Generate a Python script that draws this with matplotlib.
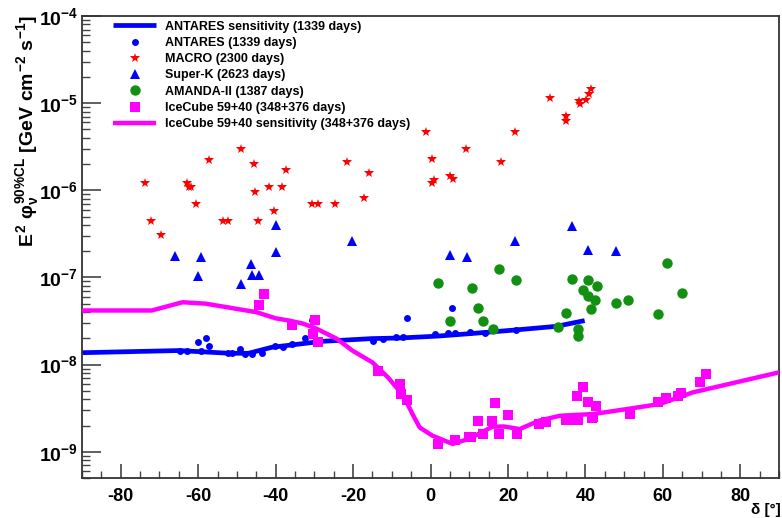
import matplotlib
matplotlib.use("Agg")
import matplotlib.pyplot as plt
import numpy as np
from matplotlib.ticker import FuncFormatter, LogLocator, MultipleLocator, NullFormatter

# ---- data ----
antares_sens_dec = [-90, -65, -52, -47, -41, -28, -15, -8, 1.5, 9.3, 22, 32.5, 39.8]
antares_sens_val = [1.37e-8, 1.45e-8, 1.35e-8, 1.35e-8, 1.58e-8, 1.85e-8, 1.99e-8,
                    2.02e-8, 2.12e-8, 2.25e-8, 2.5e-8, 2.75e-8, 3.2e-8]

icecube_sens_dec = [-90, -72, -64, -58, -45, -40, -36.5, -33, -29.5, -24.3, -20.2, -15,
                    -11, -7, -4.7, -2.8, 0.5, 5.7, 10, 16, 19, 23, 28, 33.4, 42, 50.7,
                    59.2, 67.8, 90]
icecube_sens_val = [4.18e-8, 4.18e-8, 5.2e-8, 5.0e-8, 4.0e-8, 3.4e-8, 3.2e-8, 2.96e-8,
                    2.59e-8, 1.99e-8, 1.45e-8, 1.06e-8, 7.14e-9, 4.4e-9, 2.73e-9, 1.9e-9,
                    1.53e-9, 1.23e-9, 1.41e-9, 1.94e-9, 1.95e-9, 1.82e-9, 2.27e-9, 2.59e-9,
                    2.71e-9, 3.09e-9, 3.53e-9, 4.81e-9, 8.15e-9]

antares_dec = [-64.6, -62.9, -60.1, -59.2, -58.0, -57.3, -52.2, -51.3, -49.2, -47.9,
               -46.1, -43.6, -40.1, -38.1, -35.9, -32.5, -30.7, -14.8, -12.3, -9.0,
               -7.1, -6.1, 1.1, 4.5, 5.6, 6.2, 10.1, 14.0, 22.0]
antares_val = [1.42e-8, 1.42e-8, 1.8e-8, 1.42e-8, 2.03e-8, 1.62e-8, 1.36e-8, 1.36e-8,
               1.51e-8, 1.34e-8, 1.34e-8, 1.36e-8, 1.62e-8, 1.58e-8, 1.73e-8, 2.03e-8,
               3.27e-8, 1.89e-8, 1.97e-8, 2.1e-8, 2.1e-8, 3.44e-8, 2.26e-8, 2.31e-8,
               4.43e-8, 2.31e-8, 2.35e-8, 2.29e-8, 2.5e-8]

macro_dec = [-73.7, -72.1, -69.5, -62.8, -62.3, -61.8, -60.6, -57.3, -53.6, -52.4,
             -48.9, -45.6, -45.4, -44.6, -41.8, -40.5, -38.4, -37.2, -30.6, -29.0,
             -24.7, -21.5, -17.1, -15.8, -1.1, 0.5, 0.9, 0.4, 5.0, 5.7, 9.1, 18.2,
             21.9, 30.9, 35.1, 35.1, 38.3, 38.5, 40.2, 40.9, 41.5]
macro_val = [1.21e-6, 4.4e-7, 3.04e-7, 1.21e-6, 1.09e-6, 1.09e-6, 7.03e-7, 2.25e-6,
             4.4e-7, 4.4e-7, 3.01e-6, 1.99e-6, 9.66e-7, 4.4e-7, 1.09e-6, 5.74e-7,
             1.09e-6, 1.73e-6, 7.03e-7, 7.03e-7, 7.03e-7, 2.11e-6, 8.15e-7, 1.6e-6,
             4.68e-6, 2.27e-6, 1.33e-6, 1.21e-6, 1.46e-6, 1.34e-6, 3.01e-6, 2.14e-6,
             4.68e-6, 1.16e-5, 7.1e-6, 6.27e-6, 1.06e-5, 9.75e-6, 1.08e-5, 1.29e-5,
             1.44e-5]

superk_dec = [-65.9, -59.2, -60.1, -48.9, -46.4, -46.0, -44.4, -40.0, -40.0, -20.4,
              5.0, 9.3, 21.9, 36.6, 40.6, 47.8]
superk_val = [1.77e-7, 1.71e-7, 1.04e-7, 8.47e-8, 1.41e-7, 1.08e-7, 1.08e-7, 4.04e-7,
              1.95e-7, 2.6e-7, 1.82e-7, 1.71e-7, 2.6e-7, 3.86e-7, 2.04e-7, 1.99e-7]

amanda_dec = [1.9, 5.0, 10.8, 12.3, 13.5, 16.1, 17.6, 22.0, 32.8, 35.1, 36.6, 38.1,
              38.1, 39.4, 40.6, 40.6, 41.5, 42.4, 43.1, 48.0, 51.1, 58.7, 61.0, 65.0]
amanda_val = [8.59e-8, 3.2e-8, 7.53e-8, 4.43e-8, 3.2e-8, 2.55e-8, 1.26e-7, 9.24e-8,
              2.69e-8, 3.96e-8, 9.48e-8, 2.57e-8, 2.15e-8, 7.1e-8, 9.24e-8, 6.2e-8,
              4.37e-8, 5.54e-8, 7.94e-8, 5.12e-8, 5.58e-8, 3.76e-8, 1.46e-7, 6.67e-8]

icecube_dec = [-43.1, -44.3, -29.9, -35.9, -30.3, -29.0, -13.5, -7.9, -7.5, -6.1, 1.9,
               6.2, 9.9, 10.5, 12.3, 13.5, 16.0, 16.6, 17.7, 20.0, 22.3, 28.0, 29.7,
               34.9, 36.4, 38.1, 37.8, 39.5, 40.6, 42.8, 41.8, 42.0, 51.4, 58.7, 60.9,
               63.9, 64.7, 69.5, 71.2]
icecube_val = [6.5e-8, 4.77e-8, 3.27e-8, 2.88e-8, 2.25e-8, 1.84e-8, 8.38e-9, 6.0e-9,
               4.6e-9, 3.96e-9, 1.24e-9, 1.36e-9, 1.49e-9, 1.49e-9, 2.27e-9, 1.6e-9,
               2.27e-9, 3.6e-9, 1.6e-9, 2.61e-9, 1.6e-9, 2.11e-9, 2.21e-9, 2.31e-9,
               2.31e-9, 2.31e-9, 4.41e-9, 5.48e-9, 3.69e-9, 3.38e-9, 2.42e-9, 2.5e-9,
               2.71e-9, 3.69e-9, 4.1e-9, 4.41e-9, 4.68e-9, 6.27e-9, 7.82e-9]

x_ticks = [-80, -60, -40, -20, 0, 20, 40, 60, 80]
x_tick_labels = ["-80", "-60", "-40", "-20", "0", "20", "40", "60", "80"]
y_ticks = [1e-9, 1e-8, 1e-7, 1e-6, 1e-5, 1e-4]

BLUE = "#0000ff"
RED = "#ff0000"
GREEN = "#119011"
MAGENTA = "#ff00ff"

plt.rcParams["font.family"] = ["Liberation Sans", "DejaVu Sans"]
plt.rcParams["font.weight"] = "bold"
plt.rcParams["mathtext.fontset"] = "custom"
plt.rcParams["mathtext.rm"] = "Liberation Sans:bold"
plt.rcParams["mathtext.it"] = "Liberation Sans:bold"
plt.rcParams["mathtext.bf"] = "Liberation Sans:bold"


def main():
    fig = plt.figure(figsize=(7.82, 5.18), dpi=100)
    ax = fig.add_axes([0.1049, 0.0772, 0.8913, 0.8919])

    l_ant, = ax.plot(antares_sens_dec, antares_sens_val, color=BLUE, lw=3.4,
                     solid_capstyle="butt", label="ANTARES sensitivity (1339 days)", zorder=2)
    l_ice, = ax.plot(icecube_sens_dec, icecube_sens_val, color=MAGENTA, lw=3.2,
                     solid_capstyle="butt", label="IceCube 59+40 sensitivity (348+376 days)", zorder=3)

    p_ant, = ax.plot(antares_dec, antares_val, "o", color=BLUE, ms=5, mew=0,
                     label="ANTARES (1339 days)", zorder=4)
    p_mac, = ax.plot(macro_dec, macro_val, "*", color=RED, ms=7.5, mew=0,
                     label="MACRO (2300 days)", zorder=4)
    p_sk, = ax.plot(superk_dec, superk_val, "^", color=BLUE, ms=7.5, mew=0,
                    label="Super-K (2623 days)", zorder=4)
    p_am, = ax.plot(amanda_dec, amanda_val, "o", color=GREEN, ms=7.5, mew=0,
                    label="AMANDA-II (1387 days)", zorder=4)
    p_ic, = ax.plot(icecube_dec, icecube_val, "s", color=MAGENTA, ms=6.5, mew=0,
                    label="IceCube 59+40 (348+376 days)", zorder=5)

    ax.set_yscale("log")
    ax.set_xlim(-90, 90)
    ax.set_ylim(5e-10, 1e-4)

    ax.set_xticks(x_ticks)
    ax.set_xticklabels(x_tick_labels, fontsize=13, fontweight="bold")
    ax.xaxis.set_minor_locator(MultipleLocator(5))
    ax.set_yticks(y_ticks)
    ax.yaxis.set_minor_locator(LogLocator(base=10, subs=np.arange(2, 10), numticks=20))
    ax.yaxis.set_minor_formatter(NullFormatter())
    ax.yaxis.set_major_formatter(FuncFormatter(lambda v, _: r"$10^{%d}$" % round(np.log10(v))))

    ax.tick_params(which="both", direction="in", top=False, right=False, color="#444444")
    ax.tick_params(axis="y", which="major", length=14, width=1.2, pad=3, labelsize=14)
    ax.tick_params(axis="y", which="minor", length=6, width=1.0)
    ax.tick_params(axis="x", which="major", length=10, width=1.2, pad=7)
    ax.tick_params(axis="x", which="minor", length=5, width=1.0)
    for s in ax.spines.values():
        s.set_linewidth(1.3)
        s.set_color("#333333")

    fig.text(0.035, 0.972, r"$E^{2}\ φ_{ν}^{90\%CL}\ [GeV\ cm^{-2}\ s^{-1}]$",
             rotation=90, ha="center", va="top", fontsize=14)
    fig.text(0.998, 0.002, "δ [°]", ha="right", va="bottom", fontsize=11, fontweight="bold")

    handles = [l_ant, p_ant, p_mac, p_sk, p_am, p_ic, l_ice]
    ax.legend(handles=handles, labels=[h.get_label() for h in handles],
              loc="upper left", bbox_to_anchor=(0.044, 0.99), frameon=False,
              prop={"size": 9, "weight": "bold"}, handlelength=3.5, handletextpad=0.7,
              labelspacing=0.34, borderpad=0, borderaxespad=0)

    fig.savefig("out.png", dpi=100)


if __name__ == "__main__":
    main()
